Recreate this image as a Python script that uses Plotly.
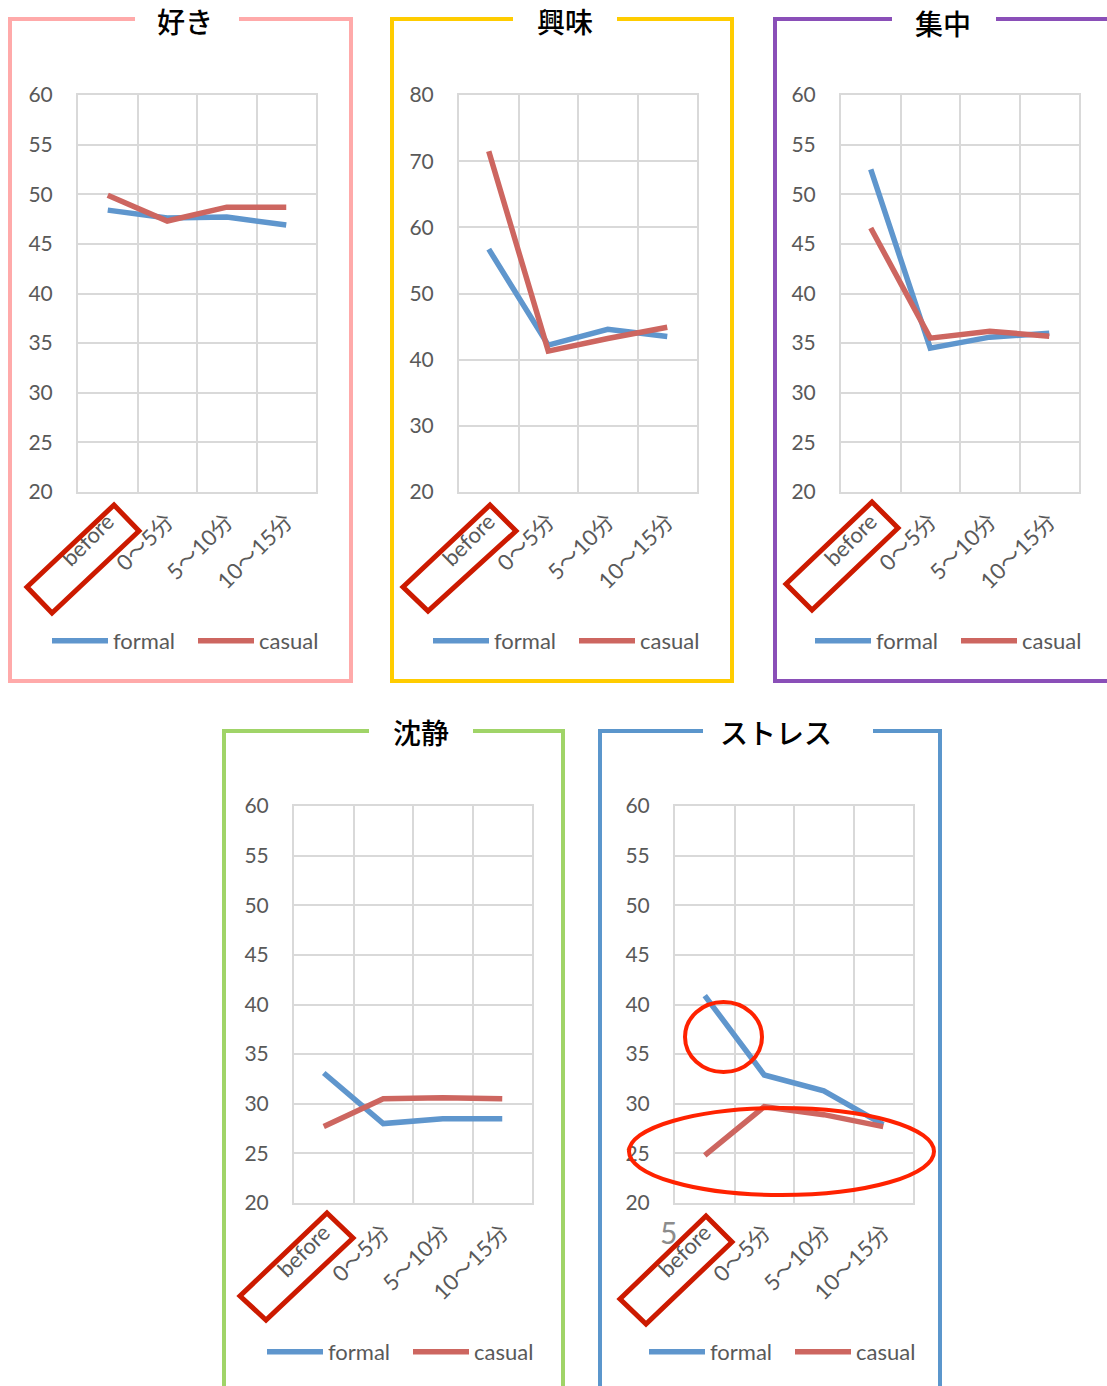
import plotly.graph_objects as go

W, H = 1107, 1386
OFF = 0  # body margin removed in the page (post_script)

categories = ["before", "0～5分", "5～10分", "10～15分"]
series_names = ["formal", "casual"]
titles = ["好き", "興味", "集中", "沈静", "ストレス"]

like_formal = [48.4, 47.6, 47.7, 46.9]
like_casual = [49.9, 47.3, 48.7, 48.7]
interest_formal = [56.7, 42.2, 44.6, 43.5]
interest_casual = [71.5, 41.3, 43.2, 44.9]
focus_formal = [52.5, 34.5, 35.6, 36.0]
focus_casual = [46.6, 35.5, 36.2, 35.7]
calm_formal = [33.1, 28.0, 28.5, 28.5]
calm_casual = [27.7, 30.5, 30.6, 30.5]
stress_formal = [40.9, 32.9, 31.3, 27.9]
stress_casual = [24.8, 29.7, 28.9, 27.7]

y_min = [20, 20, 20, 20, 20]
y_max = [60, 80, 60, 60, 60]
y_step = [5, 10, 5, 5, 5]

data = [
    (like_formal, like_casual),
    (interest_formal, interest_casual),
    (focus_formal, focus_casual),
    (calm_formal, calm_casual),
    (stress_formal, stress_casual),
]

# ---- layout geometry (pixels, screen coords) ----
plots = [  # x0, x1, ytop, ybottom
    (78, 316, 95, 492),
    (459, 697, 95, 492),
    (841, 1079, 95, 492),
    (294, 532, 806, 1203),
    (675, 913, 806, 1203),
]
frame_color = ["#FFAAAA", "#FFCC00", "#8A4FB8", "#A0D468", "#5B96CC"]
frames = [  # left, right, top, bottom, gap_left, gap_right
    (10, 351, 19, 681, 135, 239),
    (392, 732, 19, 681, 513, 617),
    (775, 1120, 19, 681, 892, 996),
    (224, 563, 731, 1400, 369, 473),
    (600, 940, 731, 1400, 703, 873),
]
title_pos = [(185, 21), (565, 21), (943, 23), (421, 732), (776, 732)]
legend_pos = [(53, 641), (434, 641), (816, 641), (268, 1352), (650, 1352)]
rects = [
    [(114, 505), (139, 531), (52, 613), (27, 587)],
    [(490, 505), (516, 531), (428, 611), (403, 587)],
    [(872, 502), (898, 528), (812, 610), (786, 584)],
    [(327, 1213), (353, 1238), (266, 1320), (240, 1296)],
    [(706, 1216), (732, 1242), (646, 1324), (620, 1299)],
]

BLUE = "#5F96CD"
RED = "#CD6660"
GRID = "#D9D9D9"
TXT = "#595959"
FONT = "Lato, 'Noto Sans CJK JP', sans-serif"


def px(x):
    return (x - OFF) / W


def py(y):
    return 1 - (y - OFF) / H


fig = go.Figure()
shapes = []
annotations = []
layout = {}

for i in range(5):
    sfx = "" if i == 0 else str(i + 1)
    xa, ya = "x" + sfx, "y" + sfx
    leg = "legend" + sfx
    f_vals, c_vals = data[i]
    for name, vals, col in [(series_names[0], f_vals, BLUE), (series_names[1], c_vals, RED)]:
        fig.add_trace(go.Scatter(
            x=categories, y=vals, name=name, mode="lines",
            line=dict(color=col, width=5.5),
            xaxis=xa, yaxis=ya, legend=leg, showlegend=True,
        ))
    x0, x1, yt, yb = plots[i]
    layout["xaxis" + sfx] = dict(
        domain=[px(x0), px(x1)], anchor=ya, type="category",
        categoryorder="array", categoryarray=categories, automargin=False,
        range=[-0.5, 3.5], tickson="boundaries", showgrid=True,
        gridcolor=GRID, gridwidth=2, showline=True, linecolor=GRID,
        linewidth=2, mirror=True, ticks="", tickangle=-45, ticklabelstandoff=6,
        tickfont=dict(family=FONT, size=22, color=TXT), zeroline=False,
    )
    layout["yaxis" + sfx] = dict(
        domain=[py(yb), py(yt)], anchor=xa, range=[y_min[i], y_max[i]],
        dtick=y_step[i], tick0=y_min[i], showgrid=True, gridcolor=GRID,
        gridwidth=2, showline=True, linecolor=GRID, linewidth=2, mirror=True,
        ticks="", ticklabelstandoff=19, zeroline=False, automargin=False,
        tickfont=dict(family=FONT, size=21, color=TXT),
    )
    lx, ly = legend_pos[i]
    layout[leg] = dict(
        orientation="h", x=px(lx - 6), xanchor="left",
        y=py(ly), yanchor="middle", bgcolor="rgba(0,0,0,0)",
        font=dict(family=FONT, size=22, color=TXT), itemwidth=56,
        entrywidth=75, tracegroupgap=0,
    )
    # frame
    fl, fr, ft, fb, gl, gr = frames[i]
    col = frame_color[i]
    p1 = (f"M {px(gl)},{py(ft)} L {px(fl)},{py(ft)} L {px(fl)},{py(fb)} "
          f"L {px(fr)},{py(fb)} L {px(fr)},{py(ft)} L {px(gr)},{py(ft)}")
    shapes.append(dict(type="path", path=p1, xref="paper", yref="paper",
                       line=dict(color=col, width=4)))
    tx, ty = title_pos[i]
    annotations.append(dict(
        text=titles[i], x=px(tx), y=py(ty), xref="paper", yref="paper",
        showarrow=False, xanchor="center", yanchor="middle",
        font=dict(family="'Noto Sans CJK JP'", size=28, color="#000000", weight=500),
    ))
    # red rectangle around 'before'
    pts = rects[i]
    pr = "M " + " L ".join(f"{px(a)},{py(b)}" for a, b in pts) + " Z"
    shapes.append(dict(type="path", path=pr, xref="paper", yref="paper",
                       line=dict(color="#CC1A00", width=5)))

# stress panel ellipses
shapes.append(dict(type="circle", xref="paper", yref="paper",
                   x0=px(685), x1=px(762), y0=py(1072), y1=py(1002),
                   line=dict(color="#FF2200", width=4)))
shapes.append(dict(type="circle", xref="paper", yref="paper",
                   x0=px(629), x1=px(934), y0=py(1195), y1=py(1108),
                   line=dict(color="#FF2200", width=4)))
annotations.append(dict(text="5", x=px(668), y=py(1232), xref="paper", yref="paper",
                        showarrow=False, xanchor="center", yanchor="middle",
                        font=dict(family=FONT, size=30, color="#8C8C8C")))

fig.update_layout(
    width=W, height=H, margin=dict(l=0, r=0, t=0, b=0, autoexpand=False),
    paper_bgcolor="white", plot_bgcolor="white",
    shapes=shapes, annotations=annotations, **layout,
)

fig.write_html(
    "out.html",
    config={"displayModeBar": False},
    post_script="document.body.style.margin='0px';document.body.style.overflow='hidden';",
)
